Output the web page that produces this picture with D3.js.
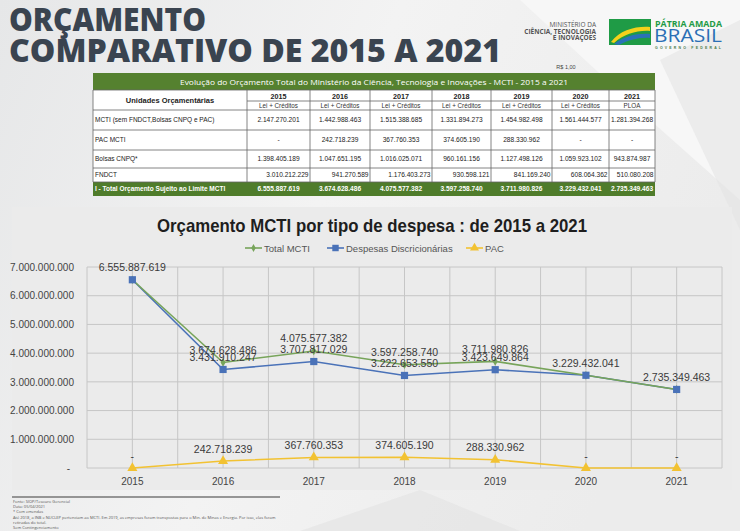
<!DOCTYPE html>
<html><head><meta charset="utf-8">
<script src="https://cdn.jsdelivr.net/npm/d3@7/dist/d3.min.js"></script>
<style>html,body{margin:0;padding:0;background:#f0f0f0;}svg{display:block;}</style>
</head><body>
<svg id="c" width="740" height="531"></svg>
<script>
// ---------- DATA ----------
const years = ["2015","2016","2017","2018","2019","2020","2021"];
const subHeaders = ["Lei + Créditos","Lei + Créditos","Lei + Créditos","Lei + Créditos","Lei + Créditos","Lei + Créditos","PLOA"];
const rowLabels = ["MCTI  (sem FNDCT,Bolsas CNPQ e PAC)","PAC MCTI","Bolsas CNPQ*","FNDCT","I - Total Orçamento Sujeito ao Limite MCTI"];
const mctiRow   = [2147270201,1442988463,1515388685,1331894273,1454982498,1561444577,1281394268];
const pacRow    = [0,242718239,367760353,374605190,288330962,0,0];
const bolsasRow = [1398405189,1047651195,1016025071,960161156,1127498126,1059923102,943874987];
const fndctRow  = [3010212229,941270589,1176403273,930598121,841169240,608064362,510080208];
const totalRow  = [6555887619,3674628486,4075577382,3597258740,3711980826,3229432041,2735349463];

const seriesNames = ["Total MCTI","Despesas Discricionárias","PAC"];
const totalMCTI = [6555887619,3674628486,4075577382,3597258740,3711980826,3229432041,2735349463];
const despesas  = [6555887619,3431910247,3707817029,3222653550,3423649864,3229432041,2735349463];
const pac       = [0,242718239,367760353,374605190,288330962,0,0];
const yTicks    = [0,1e9,2e9,3e9,4e9,5e9,6e9,7e9];

const footnotes = ["Fonte: SIOP/Tesouro Gerencial","Data: 05/04/2021","* Com emendas",
 "Até 2018, a INB e NUCLEP pertenciam ao MCTI. Em 2019, as empresas foram transpostas para o Min. de Minas e Energia. Por isso, elas foram",
 "retiradas do total.","Sem Contingenciamento"];

// ---------- SETUP ----------
const svg = d3.select("#c");
const loc = d3.formatLocale({decimal:",",thousands:".",grouping:[3],currency:["R$ ",""]});
const fmt = v => v === 0 ? "-" : loc.format(",.0f")(v);
const sans = "'Liberation Sans', Arial, sans-serif";

// background
const defs = svg.append("defs");
const bg = defs.append("linearGradient").attr("id","bg").attr("x1","0").attr("x2","1").attr("y1","0").attr("y2","0.3");
bg.append("stop").attr("offset","0").attr("stop-color","#e6e7e8");
bg.append("stop").attr("offset","0.5").attr("stop-color","#f3f3f3");
bg.append("stop").attr("offset","1").attr("stop-color","#ececec");
svg.append("rect").attr("width",740).attr("height",531).attr("fill","url(#bg)");
svg.append("path").attr("d","M520,0 L740,0 L740,200 L650,120 Z").attr("fill","#f7f7f7");
svg.append("path").attr("d","M660,60 L740,20 L740,230 Z").attr("fill","#e4e4e4").attr("opacity",0.6);
svg.append("path").attr("d","M300,531 L420,490 L520,531 Z").attr("fill","#e2e2e2").attr("opacity",0.6);

// ---------- TITLE ----------
const tcol = "#3a4450";
svg.append("text").attr("x",9).attr("y",31).attr("font-family","'Open Sans', sans-serif").attr("font-weight",800)
  .attr("font-size",31).attr("fill",tcol).attr("textLength",197).attr("lengthAdjust","spacingAndGlyphs").text("ORÇAMENTO");
svg.append("text").attr("x",9).attr("y",62).attr("font-family","'Open Sans', sans-serif").attr("font-weight",800)
  .attr("font-size",31).attr("fill",tcol).attr("textLength",492).attr("lengthAdjust","spacingAndGlyphs").text("COMPARATIVO DE 2015 A 2021");

// Ministry logo text
const mt = svg.append("g").attr("font-family","'Open Sans', sans-serif").attr("text-anchor","end").attr("fill","#555");
mt.append("text").attr("x",596).attr("y",27).attr("font-size",6.5).text("MINISTÉRIO DA");
mt.append("text").attr("x",596).attr("y",33.5).attr("font-size",6.5).attr("font-weight",700).text("CIÊNCIA, TECNOLOGIA");
mt.append("text").attr("x",596).attr("y",40).attr("font-size",6.5).attr("font-weight",700).text("E INOVAÇÕES");

// Brasil logo
const lg = svg.append("g");
lg.append("rect").attr("x",609).attr("y",19).attr("width",42).attr("height",26).attr("fill","#1f9b46");
lg.append("path").attr("d","M611,42 C620,30 636,26 650,27 L650,31 C638,30 624,34 614,43 Z").attr("fill","#f4d11b");
lg.append("path").attr("d","M614,44 C624,36 638,33 650,34 L650,38 C640,37 628,40 619,45 Z").attr("fill","#2a72b8");
lg.append("text").attr("x",655).attr("y",26.5).attr("font-family","'Open Sans', sans-serif").attr("font-weight",700)
  .attr("font-size",8.5).attr("fill","#1f9b46").attr("textLength",67).attr("lengthAdjust","spacingAndGlyphs").text("PÁTRIA AMADA");
lg.append("text").attr("x",654).attr("y",42).attr("font-family","'Open Sans', sans-serif").attr("font-weight",400)
  .attr("font-size",18).attr("fill","#2a6fb5").attr("textLength",68).attr("lengthAdjust","spacingAndGlyphs").text("BRASIL");
lg.append("text").attr("x",655).attr("y",48.5).attr("font-family",sans).attr("font-weight",700)
  .attr("font-size",3.5).attr("fill","#4a7a4a").attr("textLength",66).attr("lengthAdjust","spacing").text("GOVERNO FEDERAL");

// ---------- TABLE ----------
const colX = [93,247,310,370,432,491,552,609,655];
const rowY = [73,90,101,110,130,150,168,182,196];
const tb = svg.append("g").attr("font-family",sans);
tb.append("rect").attr("x",colX[0]).attr("y",rowY[1]).attr("width",colX[8]-colX[0]).attr("height",rowY[7]-rowY[1]).attr("fill","#ffffff");
tb.append("rect").attr("x",colX[0]).attr("y",rowY[0]).attr("width",colX[8]-colX[0]).attr("height",rowY[1]-rowY[0]).attr("fill","#55812f");
tb.append("rect").attr("x",colX[0]).attr("y",rowY[7]).attr("width",colX[8]-colX[0]).attr("height",rowY[8]-rowY[7]).attr("fill","#4f7c2b");
tb.append("text").attr("x",(colX[0]+colX[8])/2).attr("y",85).attr("text-anchor","middle").attr("font-family","'Open Sans', sans-serif")
  .attr("font-size",8).attr("fill","#fff").attr("textLength",388).attr("lengthAdjust","spacingAndGlyphs")
  .text("Evolução do Orçamento Total do Ministério da Ciência, Tecnologia e Inovações - MCTI - 2015 a 2021");
tb.append("text").attr("x",566).attr("y",69).attr("text-anchor","middle").attr("font-size",5.5).attr("fill","#444").text("R$ 1,00");
// grid lines
const lc = "#666";
for (let i=1;i<rowY.length-1;i++){
  const x0 = (i===2) ? colX[1] : colX[0];
  tb.append("line").attr("x1",x0).attr("x2",colX[8]).attr("y1",rowY[i]).attr("y2",rowY[i]).attr("stroke",lc).attr("stroke-width",0.8);
}
colX.forEach((x,i)=>{
  tb.append("line").attr("x1",x).attr("x2",x).attr("y1",rowY[1]).attr("y2",rowY[7]).attr("stroke",lc).attr("stroke-width",0.8);
});
tb.append("text").attr("x",(colX[0]+colX[1])/2).attr("y",103).attr("text-anchor","middle").attr("font-weight",700)
  .attr("font-size",7.5).attr("fill","#222").text("Unidades Orçamentárias");
years.forEach((y,i)=>{
  const cx=(colX[i+1]+colX[i+2])/2;
  tb.append("text").attr("x",cx).attr("y",98.5).attr("text-anchor","middle").attr("font-weight",700).attr("font-size",7.2).attr("fill","#222").text(y);
  tb.append("text").attr("x",cx).attr("y",108).attr("text-anchor","middle").attr("font-size",6.3).attr("fill","#333").text(subHeaders[i]);
});
const rows=[mctiRow,pacRow,bolsasRow,fndctRow,totalRow];
rows.forEach((r,ri)=>{
  const y0=rowY[ri+3], y1=rowY[ri+4], cy=(y0+y1)/2+2.3;
  const isTot = ri===4;
  tb.append("text").attr("x",colX[0]+2).attr("y",cy).attr("font-size",6.5).attr("font-weight",isTot?700:400)
    .attr("fill",isTot?"#fff":"#222").text(rowLabels[ri]);
  r.forEach((v,ci)=>{
    const right = ri===3;
    tb.append("text").attr("x",right?colX[ci+2]-1.5:(colX[ci+1]+colX[ci+2])/2).attr("y",cy)
      .attr("text-anchor",right?"end":"middle").attr("font-size",6.6).attr("font-weight",isTot?700:400)
      .attr("fill",isTot?"#fff":"#222").text(fmt(v));
  });
});

// ---------- CHART ----------
svg.append("rect").attr("x",12).attr("y",207).attr("width",720).attr("height",283).attr("fill","#ebebeb");
const m = {l:87,r:722,t:267,b:468};
const x = d3.scaleBand().domain(years).range([m.l,m.r]);
const y = d3.scaleLinear().domain([0,7e9]).range([m.b,m.t]);
const cx = d => x(d)+x.bandwidth()/2;
const ch = svg.append("g").attr("font-family",sans);

ch.append("text").attr("x",372).attr("y",232).attr("text-anchor","middle").attr("font-weight",700).attr("font-size",18.5)
  .attr("fill","#1e1e1e").attr("textLength",430).attr("lengthAdjust","spacingAndGlyphs")
  .text("Orçamento MCTI por tipo de despesa : de 2015 a 2021");

// gridlines
const gc = "#c6c6c6";
yTicks.forEach(t=>{
  ch.append("line").attr("x1",m.l).attr("x2",m.r).attr("y1",y(t)).attr("y2",y(t)).attr("stroke",gc).attr("stroke-width",1);
});
const vx=[];
years.forEach(yr=>{vx.push(x(yr)); vx.push(cx(yr));});
vx.push(m.r);
vx.forEach(v=>{
  ch.append("line").attr("x1",v).attr("x2",v).attr("y1",m.t).attr("y2",m.b).attr("stroke",gc).attr("stroke-width",1);
});

// y axis
const ya = ch.append("g").attr("transform",`translate(${m.l-13},0)`)
  .call(d3.axisLeft(y).tickValues(yTicks).tickSize(0).tickPadding(0).tickFormat(fmt));
ya.select(".domain").remove();
ya.selectAll("text").attr("font-family",sans).attr("font-size",10).attr("fill","#444");
ya.selectAll(".tick").filter(d=>d===0).select("text").attr("dx",-4);
// x axis
const xa = ch.append("g").attr("transform",`translate(0,${m.b})`)
  .call(d3.axisBottom(x).tickSize(0).tickPadding(10));
xa.select(".domain").remove();
xa.selectAll("text").attr("font-family",sans).attr("font-size",10).attr("fill","#444");

// series
const cols = ["#77a45a","#4a72b8","#f2c232"];
const data = [totalMCTI,despesas,pac];
const syms = [d3.symbolDiamond,d3.symbolSquare,d3.symbolTriangle];
const symSize=[22,52,44];
const line = d3.line().x((d,i)=>cx(years[i])).y(d=>y(d));
[2,1,0].forEach(s=>{
  ch.append("path").datum(data[s]).attr("d",line).attr("fill","none").attr("stroke",cols[s]).attr("stroke-width",1.6);
});
[2,0,1].forEach(s=>{
  ch.selectAll(null).data(data[s]).enter().append("path")
    .attr("d",d3.symbol().type(syms[s]).size(symSize[s]))
    .attr("transform",(d,i)=>`translate(${cx(years[i])},${y(d)})`)
    .attr("fill",cols[s]);
});
// labels (a Despesas label equal to the Total label at the same year is drawn once)
[0,1,2].forEach(s=>{
  const pts = data[s].map((v,i)=>({v,i})).filter(p => !(s===1 && p.v===totalMCTI[p.i]));
  ch.selectAll(null).data(pts).enter().append("text")
    .attr("x",p=>cx(years[p.i])).attr("y",p=>y(p.v)-8.5).attr("text-anchor","middle")
    .attr("font-size",10.5).attr("fill","#3a3a3a").text(p=>fmt(p.v));
});

// legend
const legX=[245,327,466];
seriesNames.forEach((n,i)=>{
  const g=ch.append("g").attr("transform",`translate(${legX[i]},248)`);
  g.append("line").attr("x1",0).attr("x2",17).attr("stroke",cols[i]).attr("stroke-width",1.6);
  g.append("path").attr("d",d3.symbol().type(syms[i]).size(symSize[i]*0.8)).attr("transform","translate(8.5,0)").attr("fill",cols[i]);
  g.append("text").attr("x",19).attr("y",3.5).attr("font-size",9.5).attr("fill","#555").text(n);
});

// ---------- FOOTNOTES ----------
svg.append("line").attr("x1",12).attr("x2",280).attr("y1",497).attr("y2",497).attr("stroke","#777").attr("stroke-width",1.5);
footnotes.forEach((t,i)=>{
  svg.append("text").attr("x",13).attr("y",503+i*5.2).attr("font-family","'Open Sans', sans-serif").attr("font-size",4)
    .attr("fill","#555").text(t);
});
</script>
</body></html>
